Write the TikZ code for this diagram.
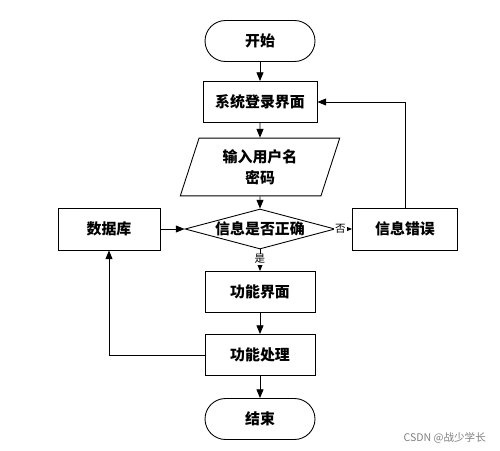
\documentclass[tikz,border=0pt]{standalone}
\usepackage{fontspec}
\newfontfamily\cjk{Noto Sans CJK SC}
\usetikzlibrary{shapes.geometric,arrows.meta}
\begin{document}
\begin{tikzpicture}[x=0.02cm,y=-0.02cm,font=\cjk\bfseries\fontsize{8.5}{10}\selectfont,
  box/.style={draw,line width=0.5pt,minimum width=2.2cm,minimum height=0.82cm,inner sep=0},
  term/.style={box,rounded corners=0.41cm},
  arr/.style={-{Triangle[length=5pt,width=4pt]},line width=0.5pt},
  lbl/.style={font=\cjk\fontsize{6}{7}\selectfont,fill=white,inner sep=0.5pt}]
\useasboundingbox (0,0) rectangle (500,450);
\node[term] (s) at (260,41) {开始};
\node[box,minimum width=2.28cm] (l) at (260,102) {系统登录界面};
\node[draw,line width=0.5pt,trapezium,trapezium left angle=72,trapezium right angle=108,minimum width=3.2cm,minimum height=0.9cm,inner sep=0,align=center,font=\cjk\bfseries\fontsize{8.5}{12}\selectfont] (i) at (260,167) {输入用户名\\密码};
\node[draw,line width=0.5pt,diamond,aspect=3.75,minimum width=3cm,minimum height=0.8cm,inner sep=0] (d) at (260,229) {信息是否正确};
\node[box,minimum width=2.04cm,minimum height=0.84cm] (db) at (109,229) {数据库};
\node[box,minimum width=2.1cm,minimum height=0.84cm] (e) at (405,229) {信息错误};
\node[box] (f) at (260,292) {功能界面};
\node[box] (p) at (260,355) {功能处理};
\node[term] (t) at (260,419) {结束};
\node[font=\cjk\fontsize{6}{7}\selectfont,text=gray,anchor=east] (w) at (492,438) {CSDN @战少学长};
\draw[arr] (s) -- (l);
\draw[arr] (l) -- (i);
\draw[arr] (i) -- (d);
\draw[arr] (db) -- (d);
\draw[arr] (d) -- node[lbl,pos=0.3]{否} (e);
\draw[arr] (d) -- node[lbl,pos=0.45]{是} (f);
\draw[arr] (e.north) |- (l.east);
\draw[arr] (f) -- (p);
\draw[arr] (p.west) -| (db.south);
\draw[arr] (p) -- (t);
\end{tikzpicture}
\end{document}
